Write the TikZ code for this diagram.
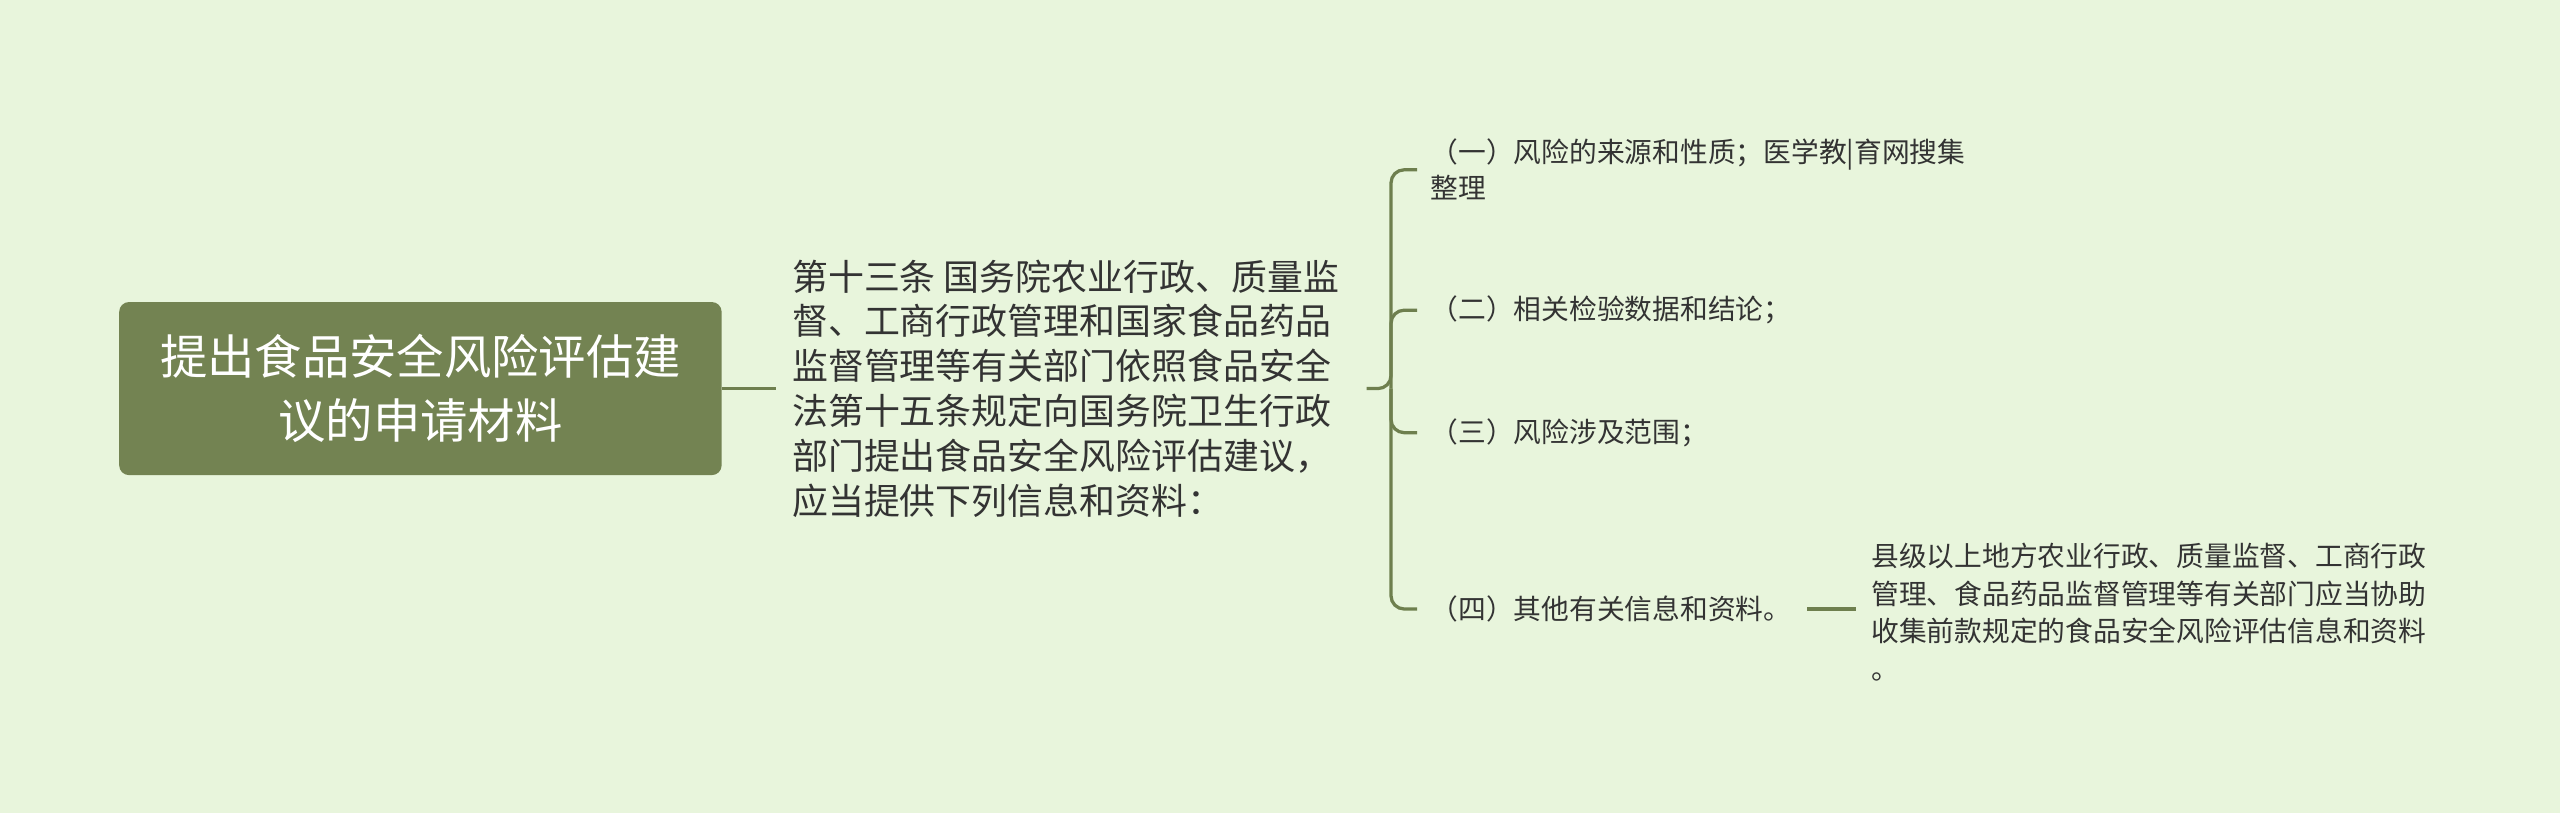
\documentclass[tikz,border=0pt]{standalone}
\usepackage{fontspec}
\setmainfont{Noto Sans CJK SC}
\definecolor{bg}{HTML}{E8F5DC}
\definecolor{rootc}{HTML}{738352}
\definecolor{ln}{HTML}{6E7F4E}
\definecolor{tx}{HTML}{333333}
\begin{document}
\begin{tikzpicture}[x=1pt,y=-1pt,
  txt/.style={inner sep=0pt,align=left,text=tx,anchor=west},
  conn/.style={draw=ln,line width=2pt,rounded corners=8pt}]
\fill[bg] (0,0) rectangle (1568,498);
\useasboundingbox (0,0) rectangle (1568,498);
\node[fill=rootc,rounded corners=6pt,minimum width=369pt,minimum height=106pt,text=white,align=center,font=\fontsize{29}{39}\selectfont,inner sep=0pt] (root) at (257.5,238) {提出食品安全风险评估建\\议的申请材料};
\node[txt,font=\fontsize{22}{27.5}\selectfont] (mid) at (485,238) {第十三条 国务院农业行政、质量监\\督、工商行政管理和国家食品药品\\监督管理等有关部门依照食品安全\\法第十五条规定向国务院卫生行政\\部门提出食品安全风险评估建议，\\应当提供下列信息和资料：};
\node[txt,font=\fontsize{17}{22}\selectfont] (l1) at (876,104) {（一）风险的来源和性质；医学教|育网搜集\\整理};
\node[txt,font=\fontsize{17}{22}\selectfont] (l2) at (876,190) {（二）相关检验数据和结论；};
\node[txt,font=\fontsize{17}{22}\selectfont] (l3) at (876,265) {（三）风险涉及范围；};
\node[txt,font=\fontsize{17}{22}\selectfont] (l4) at (876,373) {（四）其他有关信息和资料。};
\node[txt,font=\fontsize{17}{23}\selectfont] (r) at (1146,375) {县级以上地方农业行政、质量监督、工商行政\\管理、食品药品监督管理等有关部门应当协助\\收集前款规定的食品安全风险评估信息和资料\\。};
\draw[conn] (root.east) -- (475,238);
\draw[conn] (837,238) -- (852,238) |- (868,104);
\draw[conn] (852,238) |- (868,190);
\draw[conn] (852,238) |- (868,265);
\draw[conn] (852,238) |- (868,373);
\draw[conn] (1107,373) -- (1137,373);
\end{tikzpicture}
\end{document}
